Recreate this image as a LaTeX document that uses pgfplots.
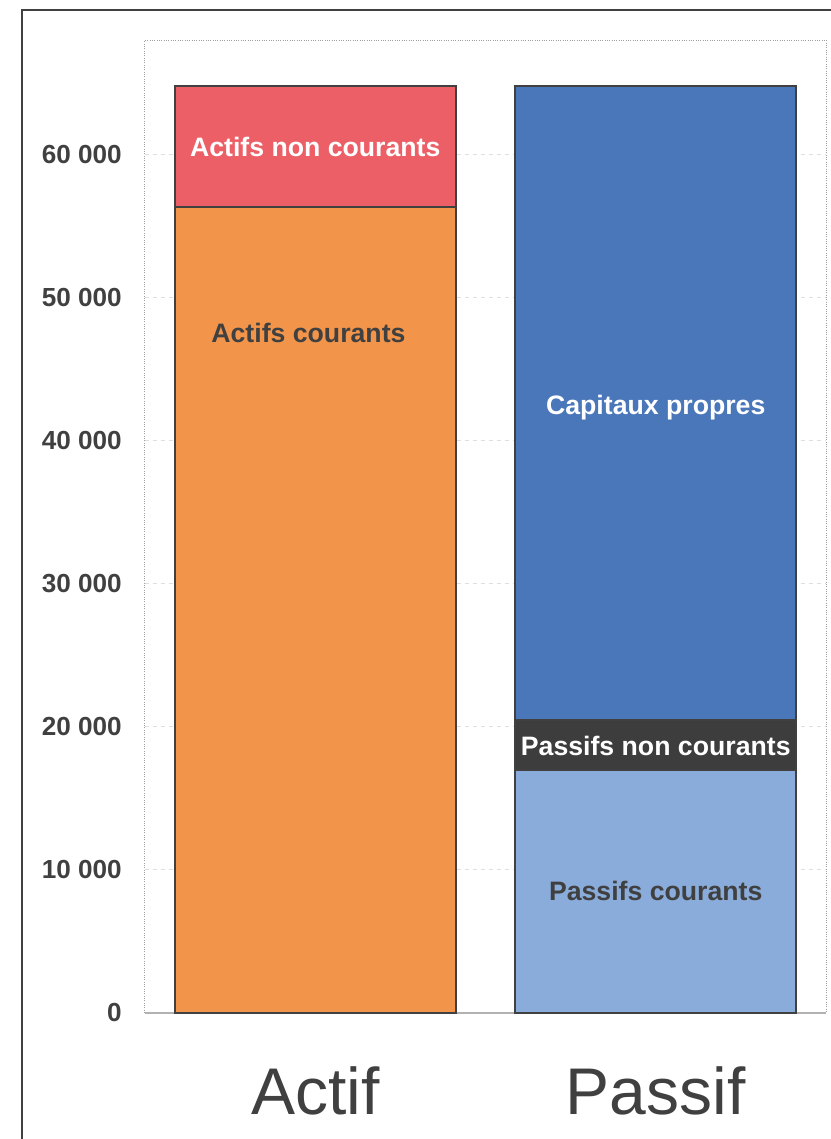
\documentclass[border=0pt]{standalone}
\usepackage{fontspec}
\setmainfont{Liberation Sans}
\usepackage{graphicx}
\usepackage{pgfplots}
\pgfplotsset{compat=1.18}

\definecolor{txt}{HTML}{404040}
\definecolor{edge}{HTML}{404040}
\definecolor{anc}{HTML}{EC5F67}
\definecolor{ac}{HTML}{F2954B}
\definecolor{cp}{HTML}{4A76BA}
\definecolor{pnc}{HTML}{3D3D3D}
\definecolor{pc}{HTML}{8AACDB}

\begin{document}
\begin{tikzpicture}[x=0.75pt,y=0.75pt]
% page = 831 x 1139 px, origin at the plot's lower left corner
\useasboundingbox (-145,-126) rectangle (686,1013);
\draw[edge, line width=1.5pt] (-122.5,-300) -- (-122.5,1002.5) -- (900,1002.5);

\begin{axis}[
    at={(0,0)}, anchor=south west,
    scale only axis,
    width=510.75pt, height=729.75pt,
    ybar stacked,
    bar width=0.826,
    xmin=-0.5, xmax=1.5,
    ymin=0, ymax=68000,
    xtick={0,1},
    xticklabels={Actif,Passif},
    ytick={0,10000,20000,30000,40000,50000,60000},
    scaled y ticks=false,
    major tick length=0pt,
    /pgf/number format/1000 sep={\ },
    /pgf/number format/assume math mode=true,
    yticklabel style={anchor=east, inner sep=0pt, xshift=-17.25pt,
        font=\fontsize{19.6}{22}\selectfont\bfseries, text=txt},
    xticklabel style={anchor=base, inner sep=0pt, yshift=-75.75pt,
        font=\fontsize{49.5}{56}\selectfont, text=txt},
    ymajorgrids,
    grid style={dashed, gray!25, line width=0.75pt},
    axis line style={gray!75, densely dotted, line width=0.75pt},
    clip=false,
]
\addplot[draw=edge, line width=1.6pt, fill=ac] coordinates {(0,56300) (1,0)};
\addplot[draw=edge, line width=1.6pt, fill=anc] coordinates {(0,8500) (1,0)};
\addplot[draw=edge, line width=1.6pt, fill=pc] coordinates {(0,0) (1,17000)};
\addplot[draw=edge, line width=1.6pt, fill=pnc] coordinates {(0,0) (1,3500)};
\addplot[draw=edge, line width=1.6pt, fill=cp] coordinates {(0,0) (1,44300)};

\draw[gray!60, line width=1pt] (rel axis cs:0,0) -- (rel axis cs:1,0);

\coordinate (anc) at (axis cs:0,60500);
\coordinate (ac) at (axis cs:-0.02,47500);
\coordinate (cp) at (axis cs:1,42300);
\coordinate (pnc) at (axis cs:1,18650);
\coordinate (pc) at (axis cs:1,8500);
\end{axis}

\begin{scope}[every node/.style={font=\fontsize{20}{22}\selectfont\bfseries}]
\node[white] at (anc) {Actifs non courants};
\node[txt] at (ac) {Actifs courants};
\node[white] at (cp) {Capitaux propres};
\node[white] at (pnc) {Passifs non courants};
\node[txt] at (pc) {Passifs courants};
\end{scope}
\end{tikzpicture}
\end{document}
